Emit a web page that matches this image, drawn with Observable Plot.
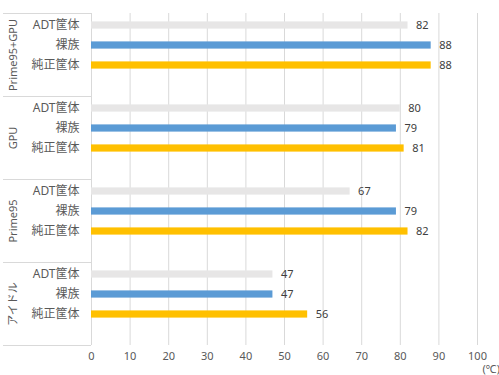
<!DOCTYPE html>
<html>
<head>
<meta charset="utf-8">
<script src="https://cdn.jsdelivr.net/npm/d3@7"></script>
<script src="https://cdn.jsdelivr.net/npm/@observablehq/plot@0.6"></script>
<style>
  body { margin: 0; background: #fff; }
  #chart svg { font-family: "Noto Sans", "Noto Sans CJK JP", sans-serif; }
</style>
</head>
<body>
<div id="chart"></div>
<script>
// categories (top to bottom)
const groups = ["Prime95+GPU", "GPU", "Prime95", "アイドル"];
// series within each group (top to bottom), plus an empty slot
const series = ["ADT筐体", "裸族", "純正筐体"];
const blankSlot = "_";
// values per series, in the order of groups
const adtValues = [82, 80, 67, 47];
const razokuValues = [88, 79, 79, 47];
const junseiValues = [88, 81, 82, 56];
const xTicks = [0, 10, 20, 30, 40, 50, 60, 70, 80, 90, 100];
const unitLabel = "(℃)";
const colors = ["#e7e6e6", "#5b9bd5", "#ffc000"];

const seriesValues = [adtValues, razokuValues, junseiValues];
const data = [];
groups.forEach((g, gi) => {
  series.forEach((s, si) => {
    data.push({group: g, series: s, value: seriesValues[si][gi]});
  });
});

const plot = Plot.plot({
  width: 499,
  height: 375,
  marginLeft: 91,
  marginRight: 22,
  marginTop: 12,
  marginBottom: 30,
  style: {fontSize: "11px", color: "#595959"},
  x: {domain: [0, 100]},
  y: {domain: [...series, blankSlot], padding: 0},
  fy: {domain: groups, padding: 0, axis: null},
  color: {domain: series, range: colors},
  marks: [
    Plot.gridX(xTicks, {stroke: "#d9d9d9", strokeOpacity: 1, strokeWidth: 1}),
    Plot.barX(data, {
      x: "value", y: "series", fy: "group", fill: "series",
      insetTop: 6.4, insetBottom: 6.4
    }),
    Plot.text(data, {
      x: "value", y: "series", fy: "group", text: d => String(d.value),
      dx: 8, textAnchor: "start", fill: "#404040", fontSize: 11
    }),
    Plot.axisY({
      tickSize: 0, tickPadding: 12, label: null,
      tickFormat: d => d === blankSlot ? "" : d,
      fontSize: 12, fill: "#595959"
    }),
    Plot.text(groups, {
      fy: d => d, text: d => d, frameAnchor: "left",
      rotate: -90, textAnchor: "middle", lineAnchor: "middle",
      dx: -78, fill: "#595959", fontSize: 11
    }),
    Plot.axisX({
      ticks: xTicks, tickSize: 0, tickPadding: 7, label: null,
      fill: "#595959", fontSize: 11
    }),
    Plot.text([{group: groups[groups.length - 1], label: unitLabel}], {
      fy: "group", text: "label", frameAnchor: "bottom-right",
      textAnchor: "start", lineAnchor: "middle", dx: 5, dy: 24,
      fill: "#595959", fontSize: 11
    })
  ]
});

// separator lines between the group labels, from the fy scale
const fy = plot.scale("fy");
const svg = d3.select(plot.tagName === "svg" ? plot : plot.querySelector("svg"));
const bounds = [];
groups.forEach(g => bounds.push(fy.apply(g)));
bounds.push(fy.apply(groups[groups.length - 1]) + fy.bandwidth);
svg.append("g")
  .selectAll("line")
  .data(bounds)
  .join("line")
  .attr("x1", 3)
  .attr("x2", 91)
  .attr("y1", d => Math.round(d) + 0.5)
  .attr("y2", d => Math.round(d) + 0.5)
  .attr("stroke", "#d9d9d9")
  .attr("stroke-width", 1);

document.getElementById("chart").appendChild(plot);
</script>
</body>
</html>
